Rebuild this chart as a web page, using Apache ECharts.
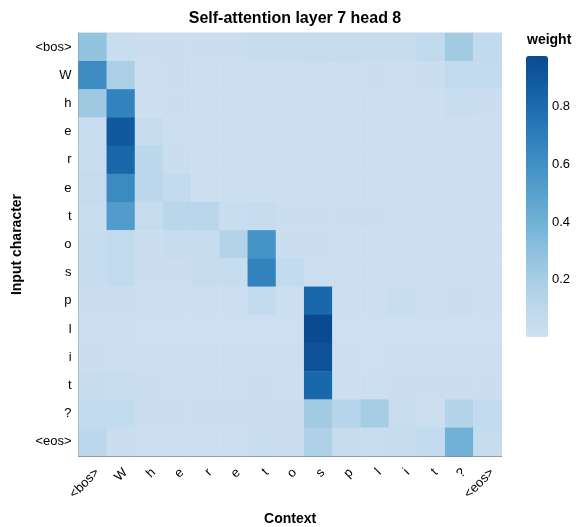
<!DOCTYPE html>
<html>
<head>
<meta charset="utf-8">
<script src="https://cdn.jsdelivr.net/npm/echarts@6/dist/echarts.min.js"></script>
<style>
  html, body { margin: 0; padding: 0; background: #fff; }
  #chart { width: 576px; height: 527px; }
</style>
</head>
<body>
<div id="chart"></div>
<script>
// Characters of the sequence (context columns and input rows)
const contextChars = ['<bos>', 'W', 'h', 'e', 'r', 'e', 't', 'o', 's', 'p', 'l', 'i', 't', '?', '<eos>'];
const inputChars = ['<bos>', 'W', 'h', 'e', 'r', 'e', 't', 'o', 's', 'p', 'l', 'i', 't', '?', '<eos>'];

// Attention weights, one row per input character, one column per context character
const weights = [
  [0.28, 0.04, 0.03, 0.03, 0.03, 0.03, 0.05, 0.05, 0.06, 0.06, 0.05, 0.05, 0.08, 0.22, 0.08],
  [0.62, 0.18, 0.02, 0.03, 0.02, 0.02, 0.02, 0.02, 0.02, 0.02, 0.03, 0.02, 0.03, 0.07, 0.07],
  [0.23, 0.68, 0.02, 0.03, 0.02, 0.02, 0.02, 0.02, 0.02, 0.02, 0.02, 0.02, 0.02, 0.04, 0.03],
  [0.04, 0.90, 0.05, 0.02, 0.02, 0.02, 0.02, 0.02, 0.02, 0.02, 0.02, 0.02, 0.02, 0.02, 0.02],
  [0.04, 0.83, 0.10, 0.03, 0.02, 0.02, 0.02, 0.02, 0.02, 0.02, 0.02, 0.02, 0.02, 0.02, 0.02],
  [0.06, 0.63, 0.10, 0.07, 0.02, 0.02, 0.02, 0.02, 0.02, 0.02, 0.02, 0.02, 0.02, 0.02, 0.02],
  [0.04, 0.53, 0.06, 0.12, 0.12, 0.04, 0.05, 0.03, 0.03, 0.03, 0.03, 0.02, 0.02, 0.02, 0.02],
  [0.05, 0.07, 0.03, 0.05, 0.05, 0.15, 0.58, 0.03, 0.03, 0.02, 0.02, 0.02, 0.02, 0.02, 0.02],
  [0.05, 0.07, 0.03, 0.03, 0.05, 0.05, 0.68, 0.07, 0.02, 0.02, 0.02, 0.02, 0.02, 0.02, 0.02],
  [0.03, 0.03, 0.02, 0.02, 0.02, 0.02, 0.07, 0.02, 0.82, 0.02, 0.02, 0.04, 0.02, 0.03, 0.02],
  [0.02, 0.02, 0.01, 0.01, 0.01, 0.01, 0.01, 0.01, 0.977, 0.01, 0.01, 0.01, 0.01, 0.01, 0.01],
  [0.03, 0.02, 0.02, 0.02, 0.02, 0.02, 0.02, 0.02, 0.93, 0.02, 0.01, 0.02, 0.02, 0.02, 0.02],
  [0.05, 0.04, 0.03, 0.02, 0.02, 0.02, 0.03, 0.02, 0.82, 0.02, 0.02, 0.03, 0.03, 0.03, 0.03],
  [0.07, 0.07, 0.03, 0.03, 0.03, 0.03, 0.03, 0.03, 0.22, 0.13, 0.20, 0.04, 0.02, 0.14, 0.07],
  [0.10, 0.03, 0.02, 0.02, 0.02, 0.02, 0.04, 0.03, 0.17, 0.06, 0.04, 0.05, 0.07, 0.40, 0.06]
];

// Colour legend ticks
const legendTicks = [0.2, 0.4, 0.6, 0.8];

// Sequential blues ramp
const blues = ['#cfe1f2', '#bed8ec', '#a8cee5', '#8fc1de', '#74b2d7', '#5ba3cf',
               '#4592c6', '#3181bd', '#206fb2', '#125ca4', '#0a4a90'];

const FONT = '"Liberation Sans", Arial, Helvetica, sans-serif';

const cells = [];
weights.forEach((row, yi) => row.forEach((v, xi) => cells.push([xi, yi, v])));
const vMin = 0;
const vMax = Math.max(...cells.map(c => c[2]));

// Legend geometry
const lgLeft = 526, lgTop = 56, lgW = 22, lgH = 281;
const legendGraphics = [
  { type: 'text', left: 527, top: 33,
    style: { text: 'weight', font: 'bold 14px ' + FONT, fill: '#000' } }
].concat(legendTicks.map(t => ({
  type: 'text',
  x: lgLeft + lgW + 4,
  y: lgTop + (vMax - t) / (vMax - vMin) * lgH,
  style: { text: t.toFixed(1), font: '13px ' + FONT, fill: '#000', textVerticalAlign: 'middle' }
})));

const chart = echarts.init(document.getElementById('chart'), null, { renderer: 'canvas' });
chart.setOption({
  animation: false,
  backgroundColor: '#fff',
  textStyle: { fontFamily: FONT },
  title: {
    text: 'Self-attention layer 7 head 8',
    left: 290, top: 6, textAlign: 'center',
    textStyle: { fontFamily: FONT, fontSize: 16, fontWeight: 'bold', color: '#000' }
  },
  grid: {
    left: 78.6, top: 33, width: 423, height: 423,
    containLabel: false,
    outerBoundsMode: 'none',
    show: true, borderColor: '#dddddd', borderWidth: 1, backgroundColor: 'transparent'
  },
  xAxis: {
    type: 'category',
    data: contextChars,
    name: 'Context',
    nameLocation: 'middle',
    nameGap: 56,
    nameTextStyle: { fontFamily: FONT, fontSize: 14, fontWeight: 'bold', color: '#000' },
    axisLine: { lineStyle: { color: '#888', width: 1 } },
    axisTick: { alignWithLabel: true, length: 5, lineStyle: { color: '#888' } },
    axisLabel: { rotate: 45, interval: 0, fontSize: 13, color: '#000', margin: 10,
                 verticalAlign: 'top', fontFamily: FONT },
    splitLine: { show: false }
  },
  yAxis: {
    type: 'category',
    data: inputChars,
    inverse: true,
    name: 'Input character',
    nameLocation: 'middle',
    nameGap: 51,
    nameTextStyle: { fontFamily: FONT, fontSize: 14, fontWeight: 'bold', color: '#000' },
    axisLine: { lineStyle: { color: '#888', width: 1 } },
    axisTick: { alignWithLabel: true, length: 5, lineStyle: { color: '#888' } },
    axisLabel: { interval: 0, fontSize: 13, color: '#000', margin: 7, fontFamily: FONT },
    splitLine: { show: false }
  },
  visualMap: {
    type: 'continuous',
    min: vMin, max: vMax,
    dimension: 2,
    calculable: false,
    orient: 'vertical',
    left: lgLeft, top: lgTop,
    itemWidth: lgW, itemHeight: lgH,
    padding: 0,
    text: null,
    inRange: { color: blues }
  },
  graphic: legendGraphics,
  series: [{
    type: 'heatmap',
    data: cells,
    itemStyle: { borderWidth: 0 },
    emphasis: { disabled: true }
  }]
});
</script>
</body>
</html>
